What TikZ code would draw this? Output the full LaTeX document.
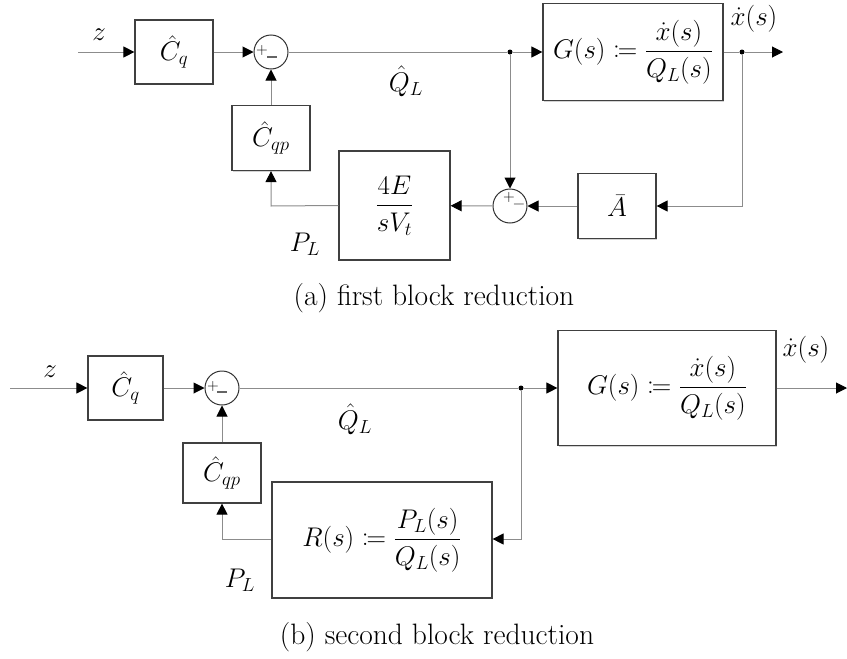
\RequirePackage{fix-cm}
\documentclass[tikz,border=0pt]{standalone}
\usepackage{amsmath}
\usepackage{mathtools}
\usetikzlibrary{arrows.meta,shadows}
\begin{document}
\begin{tikzpicture}[x=1pt,y=-1pt,
  blk/.style={draw=black!75,line width=1.2pt,fill=white,inner sep=0pt,
    drop shadow={shadow xshift=1pt,shadow yshift=-1.2pt,opacity=0.35},
    font=\fontsize{27}{32}\selectfont},
  sumc/.style={circle,draw=black!80,line width=1pt,fill=white,minimum size=34pt,inner sep=0pt},
  sgn/.style={font=\fontsize{16}{17}\selectfont\sffamily,inner sep=0pt},
  con/.style={draw=black!45,line width=1pt},
  arr/.style={con,-{Triangle[length=11pt,width=11pt,color=black]}},
  dot/.style={circle,fill=black,inner sep=0pt,minimum size=5pt},
  lbl/.style={font=\fontsize{27}{32}\selectfont,inner sep=0pt},
  captext/.style={font=\fontsize{29.5}{34}\selectfont,inner sep=0pt}]
\useasboundingbox (0,0) rectangle (847,659);

% ---------- (a) ----------
\coordinate (ain) at (78,52);
\node[blk,minimum width=78pt,minimum height=64pt] (aCq) at (174,52) {$\hat C_q$};
\node[sumc] (as1) at (271,52) {};
\node[sgn] at (262,51) {+};
\node[sgn] at (272,57) {\_};
\node[dot] (ad1) at (510,52) {};
\node[blk,minimum width=180pt,minimum height=97pt] (aG) at (633,52) {$G(s)\coloneqq\dfrac{\dot x(s)}{Q_L(s)}$};
\node[dot] (ad2) at (742,52) {};
\coordinate (aout) at (783,52);
\node[sumc] (as2) at (510,206) {};
\node[sgn] at (509,198) {+};
\node[sgn] at (519,206) {\textminus};
\node[blk,minimum width=78pt,minimum height=65pt] (aA) at (617,206) {$\bar A$};
\node[blk,minimum width=111pt,minimum height=109pt] (aE) at (394.5,205.5) {$\dfrac{4E}{sV_t}$};
\node[blk,minimum width=78pt,minimum height=65pt] (aCqp) at (271,138) {$\hat C_{qp}$};
\coordinate (ac1) at (742,206);
\coordinate (ac2) at (271,206);

\draw[arr] (ain) -- (aCq);
\draw[arr] (aCq) -- (as1);
\draw[con] (as1) -- (ad1);
\draw[arr] (ad1) -- (aG);
\draw[con] (aG) -- (ad2);
\draw[arr] (ad2) -- (aout);
\draw[arr] (ad1) -- (as2);
\draw[arr] (ad2) -- (ac1) -- (aA);
\draw[arr] (aA) -- (as2);
\draw[arr] (as2) -- (aE);
\draw[arr] (aE.west) -- (ac2) -- (aCqp);
\draw[arr] (aCqp) -- (as1);

\node[lbl] (az) at (99,35) {$z$};
\node[lbl] (aQ) at (406,81) {$\hat Q_L$};
\node[lbl] (ax) at (754,19) {$\dot x(s)$};
\node[lbl] (aP) at (305,244) {$P_L$};
\node[captext] (acap) at (434,298) {(a) first block reduction};

% ---------- (b) ----------
\coordinate (bin) at (10,388);
\node[blk,minimum width=75pt,minimum height=64pt] (bCq) at (125.5,388) {$\hat C_q$};
\node[sumc] (bs1) at (222,388) {};
\node[sgn] at (213,387) {+};
\node[sgn] at (222,392) {\_};
\node[dot] (bd1) at (521,388) {};
\node[blk,minimum width=218pt,minimum height=115pt] (bG) at (667,388) {$G(s)\coloneqq\dfrac{\dot x(s)}{Q_L(s)}$};
\coordinate (bout) at (847,388);
\node[blk,minimum width=220pt,minimum height=116pt] (bR) at (382,540) {$R(s)\coloneqq\dfrac{P_L(s)}{Q_L(s)}$};
\node[blk,minimum width=78pt,minimum height=60pt] (bCqp) at (222,473) {$\hat C_{qp}$};
\coordinate (bc1) at (521,539);
\coordinate (bc2) at (222,539);

\draw[arr] (bin) -- (bCq);
\draw[arr] (bCq) -- (bs1);
\draw[con] (bs1) -- (bd1);
\draw[arr] (bd1) -- (bG);
\draw[arr] (bG) -- (bout);
\draw[arr] (bd1) -- (bc1) -- (bR.east |- bc1);
\draw[arr] (bR.west |- bc2) -- (bc2) -- (bCqp);
\draw[arr] (bCqp) -- (bs1);

\node[lbl] (bz) at (50,372) {$z$};
\node[lbl] (bQ) at (355,419) {$\hat Q_L$};
\node[lbl] (bx) at (806,350) {$\dot x(s)$};
\node[lbl] (bP) at (240,580) {$P_L$};
\node[captext] (bcap) at (437,637) {(b) second block reduction};
\end{tikzpicture}
\end{document}
